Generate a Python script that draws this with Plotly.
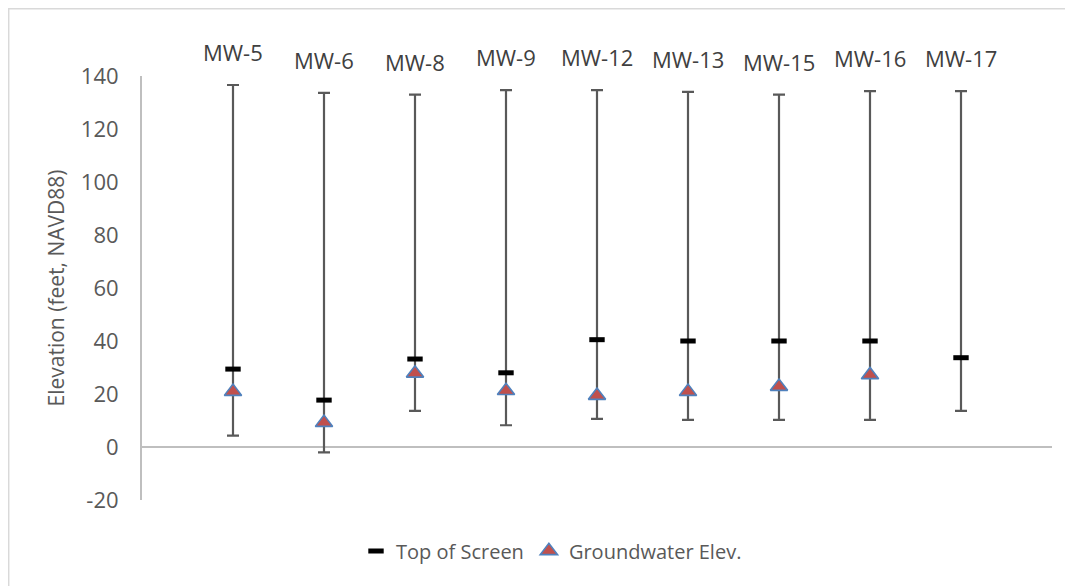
import plotly.graph_objects as go

wells = ["MW-5", "MW-6", "MW-8", "MW-9", "MW-12", "MW-13", "MW-15", "MW-16", "MW-17"]
x_pos = [1, 2, 3, 4, 5, 6, 7, 8, 9]
well_top = [136.6, 133.6, 133.0, 134.7, 134.7, 134.0, 133.0, 134.3, 134.3]
top_of_screen = [29.4, 17.7, 33.2, 28.0, 40.5, 40.0, 40.0, 40.0, 33.7]
screen_bottom = [4.3, -2.0, 13.6, 8.2, 10.6, 10.2, 10.2, 10.2, 13.6]
groundwater = [20.9, 9.2, 27.8, 21.2, 19.4, 20.9, 22.8, 27.2, None]
y_ticks = [-20, 0, 20, 40, 60, 80, 100, 120, 140]
y_tick_text = ["-20", "0", "20", "40", "60", "80", "100", "120", "140"]

FONT = "Open Sans"
GRAY = "#595959"

err_plus = [t - s for t, s in zip(well_top, top_of_screen)]
err_minus = [s - b for s, b in zip(top_of_screen, screen_bottom)]

fig = go.Figure()
fig.add_trace(go.Scatter(
    x=x_pos, y=top_of_screen, mode="markers", name="Top of Screen",
    marker=dict(symbol="line-ew", size=11, color="black",
                line=dict(color="black", width=5)),
    error_y=dict(type="data", symmetric=False, array=err_plus, arrayminus=err_minus,
                 color=GRAY, thickness=2.2, width=6),
))
fig.add_trace(go.Scatter(
    x=x_pos, y=groundwater, mode="markers", name="Groundwater Elev.",
    marker=dict(symbol="triangle-up", size=15, color="#C0504D",
                line=dict(color="#4F81BD", width=1.6)),
))

for xp, yt, name in zip(x_pos, well_top, wells):
    fig.add_annotation(x=xp, y=yt, text=name, showarrow=False, yshift=33,
                       xanchor="center", yanchor="middle",
                       font=dict(family=FONT, size=22, color="#404040"))

L, T, PW, PH = 134, 68, 910, 424
# chart border (left and top visible)
fig.add_shape(type="rect", xref="paper", yref="paper",
              x0=-L / PW + 0.0005, x1=1.2, y0=-0.3, y1=1 + T / PH - 0.001,
              line=dict(color="#D9D9D9", width=2), layer="below")

fig.update_layout(
    width=1073, height=586,
    margin=dict(l=L, r=1073 - L - PW, t=T, b=586 - T - PH, autoexpand=False),
    paper_bgcolor="white", plot_bgcolor="white",
    font=dict(family=FONT, size=20, color=GRAY),
    showlegend=True,
    legend=dict(orientation="h", x=0.45, xanchor="center", y=-0.12, yanchor="middle",
                font=dict(family=FONT, size=20, color=GRAY), itemwidth=30),
    xaxis=dict(range=[0, 10], showticklabels=False, showgrid=False, zeroline=False,
               showline=False, ticks=""),
    yaxis=dict(range=[-20, 140], tickvals=y_ticks, ticktext=y_tick_text, showgrid=False,
               zeroline=True, zerolinecolor="#BFBFBF", zerolinewidth=2,
               showline=True, linecolor="#BFBFBF", linewidth=2, ticks="",
               ticklabelstandoff=17,
               tickfont=dict(family=FONT, size=22, color=GRAY),
               title=dict(text="Elevation (feet, NAVD88)", standoff=10,
                          font=dict(family=FONT, size=21, color=GRAY))),
)

fig.write_html("out.html")
